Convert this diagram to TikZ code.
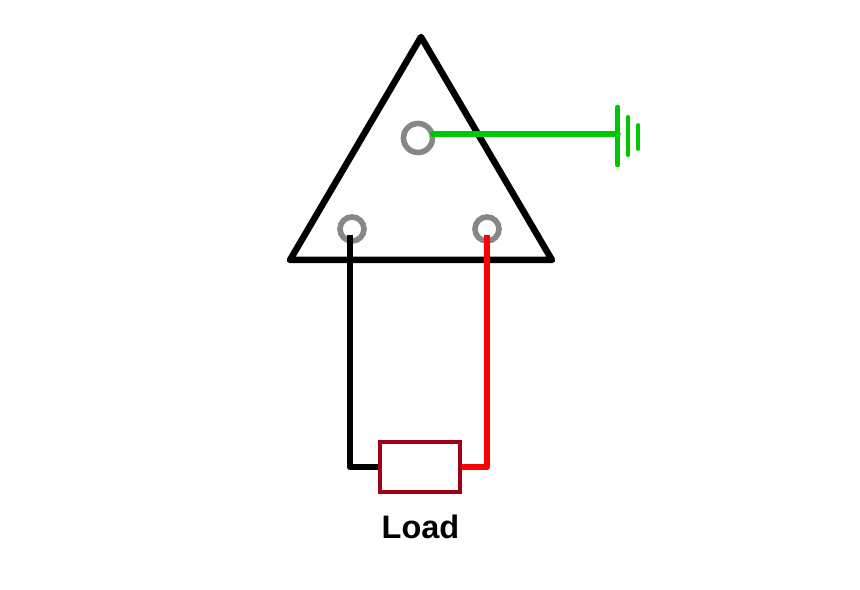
\documentclass[tikz,border=0pt]{standalone}
\usepackage{fontspec}
\setmainfont{Liberation Sans}
\definecolor{earthgreen}{RGB}{0,200,0}
\definecolor{hotred}{RGB}{255,0,0}
\definecolor{pingrey}{RGB}{135,135,135}
\definecolor{loadred}{RGB}{160,0,20}
\tikzset{
  pin/.style={circle,draw=pingrey,line width=3.2pt,inner sep=0pt,minimum size=0.48cm},
  wire/.style={line width=3.7pt,line cap=round,line join=round},
  loadbox/.style={rectangle,draw=loadred,fill=white,line width=2.2pt,inner sep=0pt,minimum width=1.6cm,minimum height=1cm}
}
\begin{document}
\begin{tikzpicture}[x=0.02cm,y=-0.02cm]
      \useasboundingbox (0,0) rectangle (860,590);
      \draw
        (421,37) coordinate (apex)
        (290,260) coordinate (left)
        (552,260) coordinate (right)
        (418,138) node[pin,minimum size=0.58cm] (earthpin){}
        (352,229) node[pin] (blackpin){}
        (487,229) node[pin] (redpin){}
        (350,235) coordinate (blackend)
        (487,235) coordinate (redend)
        (433,134) coordinate (greenend)
        (617.5,134) coordinate (bar)
        (617.5,107) coordinate (bara)
        (617.5,165) coordinate (barb)
        (628,117) coordinate (barc)
        (628,155) coordinate (bard)
        (638,125) coordinate (bare)
        (638,149) coordinate (barf);
      \draw[wire] (apex) -- (right) -- (left) -- cycle;
      \node[loadbox] (load) at (420,467) {};
      \begin{scope}[wire]
        \draw[earthgreen] (greenend) -- (bar);
        \draw[earthgreen,line width=2.6pt] (bara) -- (barb);
        \draw[earthgreen,line width=2.4pt] (barc) -- (bard);
        \draw[earthgreen,line width=2.2pt] (bare) -- (barf);
        \draw[line cap=butt] (blackend) |- (load.west);
        \draw[hotred,line cap=butt] (redend) |- (load.east);
      \end{scope}
      \node[font=\fontsize{18.5}{22}\selectfont\bfseries] (loadtext) at (420.5,527) {Load};
    \end{tikzpicture}
\end{document}
